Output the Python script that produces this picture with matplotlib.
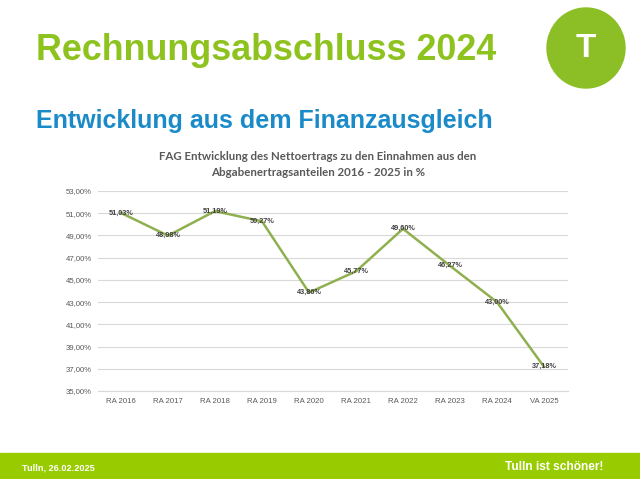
import matplotlib
matplotlib.use("Agg")
import matplotlib.pyplot as plt
import numpy as np
from matplotlib.patches import Ellipse, Rectangle
from matplotlib.ticker import FuncFormatter

categories = ["RA 2016", "RA 2017", "RA 2018", "RA 2019", "RA 2020",
              "RA 2021", "RA 2022", "RA 2023", "RA 2024", "VA 2025"]
values = [51.03, 48.98, 51.19, 50.27, 43.86, 45.77, 49.60, 46.27, 43.00, 37.18]
y_ticks = [35, 37, 39, 41, 43, 45, 47, 49, 51, 53]

W, H = 640, 479
fig = plt.figure(figsize=(W / 100, H / 100), dpi=100)
fig.patch.set_facecolor("white")

def fx(px):
    return px / W

def fy(py):
    return 1 - py / H

# Header texts
fig.text(fx(36), fy(51), "Rechnungsabschluss 2024", color="#8dc21f",
         fontsize=25.8, fontweight="bold", family="Liberation Sans", va="center", ha="left")
fig.text(fx(36), fy(121), "Entwicklung aus dem Finanzausgleich", color="#1a8bc8",
         fontsize=18, fontweight="bold", family="Liberation Sans", va="center", ha="left")

# Logo circle & footer
bg = fig.add_axes([0, 0, 1, 1], zorder=-1)
bg.set_xlim(0, W)
bg.set_ylim(H, 0)
bg.axis("off")
bg.add_patch(Ellipse((586, 48), 78, 80, color="#8cbf26"))
bg.text(586, 48, "T", color="white", fontsize=24, fontweight="bold",
        family="Liberation Sans", ha="center", va="center")
bg.add_patch(Rectangle((0, 453), W, 26, color="#99cc00"))
bg.text(22, 468, "Tulln, 26.02.2025", color="white", fontsize=6.6, fontweight="bold",
        family="Liberation Sans", ha="left", va="center")
bg.text(603, 467, "Tulln ist schöner!", color="white", fontsize=8.6, fontweight="bold",
        family="Liberation Sans", ha="right", va="center")

# Chart title
fig.text(fx(318), fy(157), "FAG Entwicklung des Nettoertrags zu den Einnahmen aus den",
         color="#595959", fontsize=8.3, fontweight="bold", family="Lato", ha="center", va="center")
fig.text(fx(318), fy(173), "Abgabenertragsanteilen 2016 - 2025 in %",
         color="#595959", fontsize=8.3, fontweight="bold", family="Lato", ha="center", va="center")

# Chart axes
ax = fig.add_axes([fx(97.5), fy(391), fx(567.5) - fx(97.5), fy(191) - fy(391)])
x = list(range(len(categories)))
ax.plot(x, values, color="#8fb04e", linewidth=1.8, solid_joinstyle="miter", zorder=3)
for xi, v in zip(x, values):
    ax.text(xi, v, f"{v:.2f}".replace(".", ",") + "%", ha="center", va="center",
            fontsize=5.3, fontweight="bold", color="#404040", family="Liberation Sans", zorder=4)

ax.set_xlim(-0.5, len(categories) - 0.5)
ax.set_ylim(y_ticks[0], y_ticks[-1])
ax.set_yticks(y_ticks)
ax.yaxis.set_major_formatter(FuncFormatter(lambda v, p: f"{v:.2f}".replace(".", ",") + "%"))
ax.set_xticks(x)
ax.set_xticklabels(categories)
ax.grid(axis="y", color="#d9d9d9", linewidth=0.8)
ax.set_axisbelow(True)
for s in ["top", "right", "left"]:
    ax.spines[s].set_visible(False)
ax.spines["bottom"].set_color("#d9d9d9")
ax.spines["bottom"].set_linewidth(0.8)
ax.tick_params(axis="both", length=0, labelsize=5.6, labelcolor="#595959", pad=5)
ax.tick_params(axis="y", pad=4)
for lab in ax.get_xticklabels() + ax.get_yticklabels():
    lab.set_family("Liberation Sans")

fig.savefig("out.png", dpi=100, facecolor="white")
